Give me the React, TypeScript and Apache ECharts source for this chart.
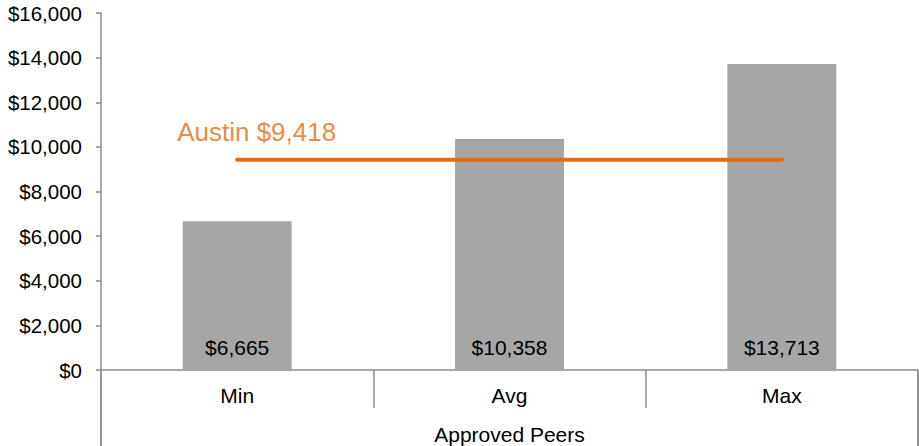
import React, { useEffect, useRef } from "react";
import * as echarts from "echarts";

const categories = ["Min", "Avg", "Max"];
const peerValues = [6665, 10358, 13713];
const austinValue = 9418;
const austinLabel = "Austin";
const groupLabel = "Approved Peers";
const yMin = 0;
const yMax = 16000;
const yInterval = 2000;

const fmt = (v: number) => "$" + v.toLocaleString("en-US");

export default function App() {
  const ref = useRef<HTMLDivElement>(null);
  useEffect(() => {
    if (!ref.current) return;
    const chart = echarts.init(ref.current, null, { renderer: "svg" });
    const font = "'Liberation Sans', Arial, sans-serif";
    const gray = "#8c8c8c";
    const orange = "#e46c0a";
    chart.setOption({
      animation: false,
      textStyle: { fontFamily: font },
      grid: { left: 101, right: 1, top: 13, bottom: 76 },
      xAxis: [
        {
          type: "category",
          data: categories,
          axisLine: { show: true, lineStyle: { color: gray, width: 1.5 } },
          axisTick: { show: true, interval: 0, length: 38, lineStyle: { color: gray, width: 1.5 } },
          axisLabel: { color: "#000", fontSize: 21, fontFamily: font, margin: 15 },
        },
        {
          type: "category",
          data: [groupLabel],
          position: "bottom",
          offset: 38,
          axisLine: { show: false },
          axisTick: { show: true, interval: 0, length: 38, lineStyle: { color: gray, width: 1.5 } },
          axisLabel: { color: "#000", fontSize: 21, fontFamily: font, margin: 16 },
        },
      ],
      yAxis: {
        type: "value",
        min: yMin,
        max: yMax,
        interval: yInterval,
        axisLine: { show: true, lineStyle: { color: gray, width: 1.5 } },
        axisTick: { show: true, length: 5, lineStyle: { color: gray, width: 1.5 } },
        splitLine: { show: false },
        axisLabel: { color: "#000", fontSize: 20.5, fontFamily: font, margin: 19, formatter: (v: number) => fmt(v) },
      },
      series: [
        {
          type: "bar",
          data: peerValues,
          barWidth: "40%",
          itemStyle: { color: "#a6a6a6" },
          label: {
            show: true,
            position: "insideBottom",
            distance: 12,
            color: "#000",
            fontSize: 21,
            fontFamily: font,
            formatter: (p: any) => fmt(p.value),
          },
        },
        {
          type: "line",
          data: categories.map(() => austinValue),
          symbol: "none",
          lineStyle: { color: orange, width: 4, cap: "round" },
          itemStyle: { color: orange },
          z: 5,
        },
        {
          type: "scatter",
          data: [[categories[0], austinValue]],
          symbolSize: 1,
          itemStyle: { color: "rgba(0,0,0,0)" },
          label: {
            show: true,
            position: "top",
            align: "left",
            distance: 14,
            offset: [-60, 0],
            color: orange,
            fontSize: 26,
            fontFamily: font,
            formatter: () => austinLabel + " " + fmt(austinValue),
          },
          z: 6,
        },
      ],
      graphic: [
        {
          type: "line",
          shape: { x1: 101, y1: 370, x2: 101, y2: 446 },
          style: { stroke: gray, lineWidth: 1.5 },
        },
        {
          type: "line",
          shape: { x1: 918, y1: 370, x2: 918, y2: 446 },
          style: { stroke: gray, lineWidth: 1.5 },
        },
      ],
    });
    return () => chart.dispose();
  }, []);
  return (
    <div
      ref={ref}
      style={{ position: "fixed", left: 0, top: 0, width: 919, height: 446, background: "#fff" }}
    />
  );
}
